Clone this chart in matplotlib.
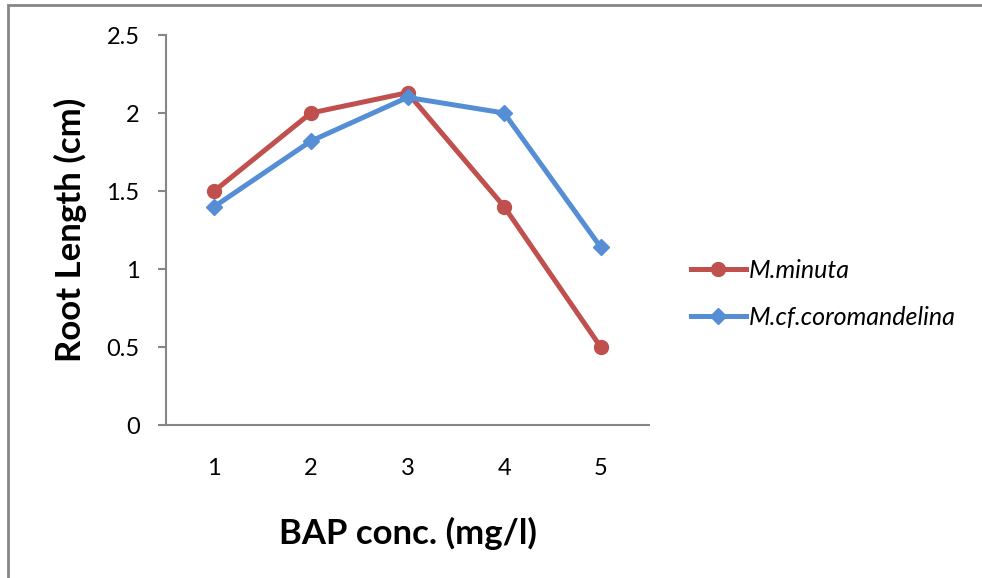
import matplotlib
matplotlib.use("Agg")
import matplotlib.pyplot as plt
from matplotlib.patches import Rectangle
from matplotlib.lines import Line2D

# Root length vs BAP concentration for two species
bap_conc = [1, 2, 3, 4, 5]
tick_labels = ["1", "2", "3", "4", "5"]
minuta = [1.5, 2.0, 2.13, 1.4, 0.5]
coromandelina = [1.4, 1.82, 2.1, 2.0, 1.14]
series_names = ["M.minuta", "M.cf.coromandelina"]

RED = "#C0504D"
BLUE = "#558ED5"
AXIS_GREY = "#868686"

plt.rcParams["font.family"] = ["Lato", "DejaVu Sans"]

fig = plt.figure(figsize=(9.82, 5.78), dpi=100)
ax = fig.add_axes([166 / 982, 1 - 425 / 578, (649 - 166) / 982, (425 - 35) / 578])

ax.plot(bap_conc, minuta, color=RED, lw=3.6, marker="o", ms=10,
        solid_capstyle="round", label=series_names[0], zorder=3)
ax.plot(bap_conc, coromandelina, color=BLUE, lw=3.6, marker="D", ms=8.5,
        solid_capstyle="round", label=series_names[1], zorder=4)

ax.set_xlim(0.5, 5.5)
ax.set_ylim(0, 2.5)
ax.set_xticks(bap_conc)
ax.set_xticklabels(tick_labels)
ax.set_yticks([0, 0.5, 1, 1.5, 2, 2.5])
ax.set_yticklabels(["0", "0.5", "1", "1.5", "2", "2.5"])

for side in ("top", "right"):
    ax.spines[side].set_visible(False)
for side in ("left", "bottom"):
    ax.spines[side].set_color(AXIS_GREY)
    ax.spines[side].set_linewidth(1.5)

ax.tick_params(axis="y", direction="out", length=6, width=1.5, color=AXIS_GREY,
               labelsize=17, pad=13)
ax.tick_params(axis="x", length=0, labelsize=17, pad=24)

ax.set_xlabel("BAP conc. (mg/l)", fontsize=25, fontweight="bold", labelpad=27)
ax.set_ylabel("Root Length (cm)", fontsize=25, fontweight="bold", labelpad=14)

handles = [
    Line2D([], [], color=RED, lw=3.6, marker="o", ms=10),
    Line2D([], [], color=BLUE, lw=3.6, marker="D", ms=8.5),
]
fig.legend(handles, series_names, loc="center left",
           bbox_to_anchor=(668 / 982, 1 - 294 / 578), frameon=False,
           prop={"style": "italic", "size": 18}, handlelength=2.2,
           handletextpad=0.15, labelspacing=0.95)

# chart-area frame
fig.add_artist(Rectangle((8 / 982, -0.1), 1.2, (578 - 5) / 578 + 0.1,
                         transform=fig.transFigure, fill=False,
                         edgecolor=AXIS_GREY, lw=2))

fig.savefig("out.png", dpi=100)
